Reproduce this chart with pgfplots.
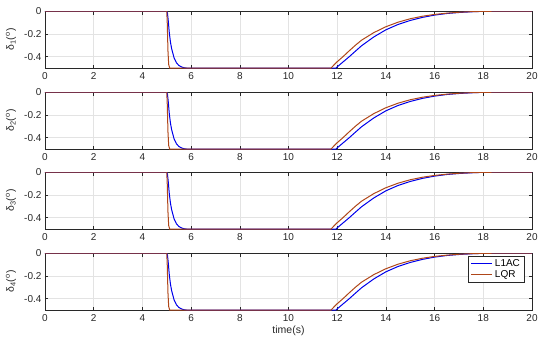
\documentclass[border=0pt]{standalone}
\usepackage{fontspec}
\setmainfont{Liberation Sans}
\usepackage{pgfplots}
\pgfplotsset{compat=1.18}
\definecolor{lqr}{RGB}{175,70,25}
\definecolor{laac}{RGB}{0,0,235}
\definecolor{axc}{RGB}{40,40,40}
\pgfplotsset{
  every axis/.append style={
    scale only axis, width=487pt, height=57pt,
    xmin=0, xmax=20, ymin=-0.5, ymax=0,
    xtick={0,2,...,20}, ytick={-0.4,-0.2,0},
    yticklabels={-0.4,-0.2,0},
    /pgf/number format/assume math mode=true,
    ticklabel style={font=\fontsize{10}{12}\selectfont, text=axc},
    label style={font=\fontsize{10.5}{12}\selectfont, text=axc},
    tick align=inside, major tick length=3.5pt,
    tick style={axc, line width=0.5pt},
    axis line style={axc, line width=0.6pt},
    grid=major, major grid style={gray!22, line width=0.4pt},
    xticklabel style={yshift=-1pt},
    ylabel style={at={(axis description cs:-0.052,0.5)}, anchor=south},
  },
}
\newcommand{\bluedata}{(0,0)(5,0)(5.03,-0.02)(5.06,-0.08)(5.1,-0.18)(5.15,-0.27)(5.2,-0.33)(5.3,-0.41)(5.4,-0.455)(5.5,-0.478)(5.6,-0.49)(5.7,-0.497)(5.8,-0.5)(11.95,-0.5)(12,-0.49)(12.25,-0.445)(12.5,-0.40)(12.75,-0.352)(13,-0.305)(13.5,-0.228)(14,-0.165)(14.5,-0.118)(15,-0.083)(15.5,-0.056)(16,-0.036)(16.5,-0.022)(17,-0.013)(17.5,-0.007)(18,-0.003)(19,-0.0005)(20,0)}
\newcommand{\lqrdata}{(0,0)(5,0)(5.02,-0.1)(5.05,-0.35)(5.08,-0.47)(5.12,-0.5)(11.75,-0.5)(11.8,-0.488)(12,-0.445)(12.25,-0.398)(12.5,-0.348)(12.75,-0.3)(13,-0.256)(13.5,-0.19)(14,-0.138)(14.5,-0.098)(15,-0.068)(15.5,-0.046)(16,-0.03)(16.5,-0.019)(17,-0.011)(17.5,-0.006)(18,-0.003)(19,-0.0005)(20,0)}
\begin{document}
\begin{tikzpicture}
\path (0pt,0pt) rectangle (550pt,341pt);
\begin{axis}[at={(45pt,273pt)}, anchor=south west, ylabel={δ\textsubscript{1}(\textsuperscript{o})}]
\addplot[laac, line width=1pt] coordinates {\bluedata};
\addplot[lqr, line width=1pt] coordinates {\lqrdata};
\end{axis}
\begin{axis}[at={(45pt,192pt)}, anchor=south west, ylabel={δ\textsubscript{2}(\textsuperscript{o})}]
\addplot[laac, line width=1pt] coordinates {\bluedata};
\addplot[lqr, line width=1pt] coordinates {\lqrdata};
\end{axis}
\begin{axis}[at={(45pt,112pt)}, anchor=south west, ylabel={δ\textsubscript{3}(\textsuperscript{o})}]
\addplot[laac, line width=1pt] coordinates {\bluedata};
\addplot[lqr, line width=1pt] coordinates {\lqrdata};
\end{axis}
\begin{axis}[at={(45pt,31pt)}, anchor=south west, ylabel={δ\textsubscript{4}(\textsuperscript{o})},
  xlabel={time(s)}, xlabel style={yshift=3pt},
  legend style={at={(0.984,0.95)}, anchor=north east, font=\fontsize{10}{12}\selectfont, draw=axc, line width=0.5pt, inner xsep=2pt, inner ysep=1pt, row sep=-1pt},
  legend cell align=left,
  legend image code/.code={\draw[#1, line width=1.2pt] (0cm,0cm) -- (0.75cm,0cm);}]
\addplot[laac, line width=1pt] coordinates {\bluedata};
\addplot[lqr, line width=1pt] coordinates {\lqrdata};
\legend{L1AC,LQR}
\end{axis}
\end{tikzpicture}
\end{document}
